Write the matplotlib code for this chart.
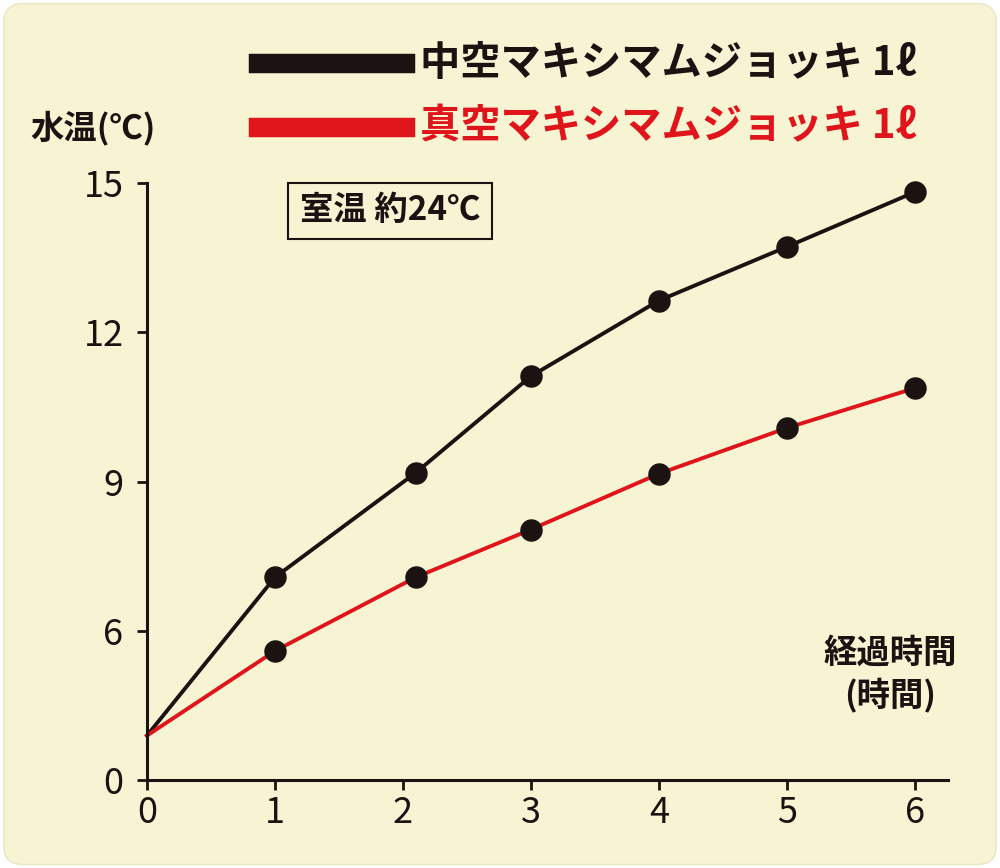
import matplotlib
matplotlib.use("Agg")
import matplotlib.pyplot as plt
import numpy as np
from matplotlib.patches import FancyBboxPatch

plt.rcParams['font.family'] = ['Noto Sans CJK JP', 'DejaVu Sans']

hours = [0, 1, 2.1, 3, 4, 5, 6]
hollow = [1.8, 7.08, 9.18, 11.12, 12.64, 13.72, 14.82]
vacuum = [1.8, 5.2, 7.08, 8.04, 9.16, 10.08, 10.88]
yticks = [0, 6, 9, 12, 15]
xticks = [0, 1, 2, 3, 4, 5, 6]
labels = ['中空マキシマムジョッキ 1ℓ', '真空マキシマムジョッキ 1ℓ']
colors = ['#1a1311', '#e0141b']

def fwd(v):
    v = np.asarray(v, dtype=float)
    return np.where(v >= 6, v, 3 + v / 2)
def inv(d):
    d = np.asarray(d, dtype=float)
    return np.where(d >= 6, d, (d - 3) * 2)

bg = '#f7f4d4'
fig = plt.figure(figsize=(10, 8.68), dpi=100)
fig.patch.set_facecolor('white')
fig.patches.append(FancyBboxPatch((0.004, 0.004), 0.992, 0.992, boxstyle='round,pad=0,rounding_size=0.02',
                                  transform=fig.transFigure, facecolor=bg, edgecolor='#e8e4c4', lw=1,
                                  zorder=-10))
ax = fig.add_axes([0.147, 0.101, 0.801, 0.688])
ax.set_facecolor('none')
ax.set_yscale('function', functions=(fwd, inv))
ax.set_ylim(0, 15)
ax.set_xlim(0, 6.26)
for s in ['top', 'right']:
    ax.spines[s].set_visible(False)
for s in ['left', 'bottom']:
    ax.spines[s].set_linewidth(2.2)
    ax.spines[s].set_color('#1a1311')
ax.set_yticks(yticks)
ax.set_yticklabels([str(t) for t in yticks])
ax.set_xticks(xticks)
ax.set_xticklabels([str(t) for t in xticks])
ax.yaxis.set_minor_locator(matplotlib.ticker.NullLocator())
ax.tick_params(axis='both', length=7, width=2, labelsize=26, color='#1a1311', labelcolor='#1a1311')
ax.tick_params(axis='y', pad=10)

for ys, c in zip([hollow, vacuum], colors):
    ax.plot(hours, ys, color=c, lw=2.8, zorder=2, clip_on=False)
    ax.scatter(hours[1:], ys[1:], s=230, color='#1a1311', zorder=3, clip_on=False)

fig.text(0.03, 0.853, '水温(℃)', fontsize=24, fontweight='bold', color='#1a1311', va='center')
fig.text(0.89, 0.222, '経過時間\n(時間)', fontsize=24, fontweight='bold', color='#1a1311',
         ha='center', va='center', linespacing=1.3)
fig.text(0.39, 0.757, '室温 約24℃', fontsize=24, fontweight='bold', color='#1a1311', ha='center', va='center',
         bbox=dict(boxstyle='square,pad=0.35', facecolor='none', edgecolor='#1a1311', lw=1.5))

for i, (lab, c) in enumerate(zip(labels, colors)):
    y = 0.927 - i * 0.073
    fig.add_artist(plt.Line2D([0.258, 0.405], [y, y], color=c, lw=14, transform=fig.transFigure))
    fig.text(0.42, y, lab, fontsize=29, fontweight='bold', color=c, va='center')

fig.savefig('out.png', dpi=100, facecolor='white')
